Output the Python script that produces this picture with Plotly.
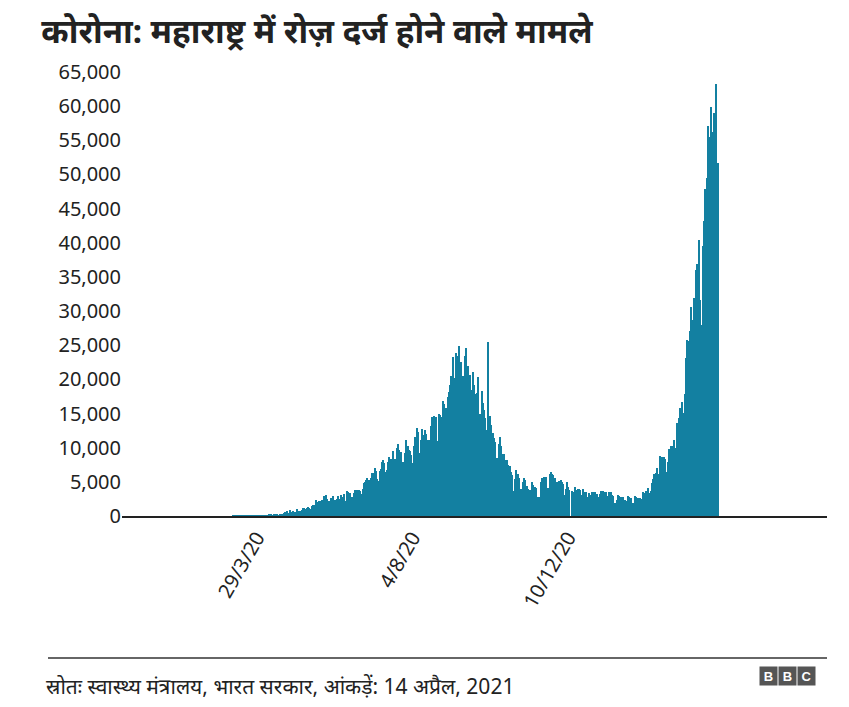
import plotly.graph_objects as go
import pandas as pd

start_date = "2020-03-09"
mar20 = [2,3,5,3,6,3,14,6,3,10,4,6,11,10,15,10,23,20,28,21,15,19,82]
apr20 = [33,81,88,47,145,113,120,150,187,210,92,187,295,121,165,117,286,118,232,466,552,431,778,394,811,440,522,729,597,583]
may20 = [1008,790,678,771,841,1233,1216,1089,1165,1278,1230,1026,1495,1602,1576,1606,2347,2033,2127,2100,2250,2345,2940,2608,3041,2436,2190,2091,2598,2682,2940]
jun20 = [2361,2287,2560,2933,2436,3007,2739,2553,3254,2259,3607,3493,3427,3390,2786,2701,3307,3752,3827,3874,3870,3721,3214,3890,4841,5024,5318,5493,5257,4878]
jul20 = [5537,6330,6364,7074,6555,5368,5134,6603,6875,7862,8139,7827,6497,6741,7975,8641,8308,8348,9518,8240,8336,9895,10576,9615,9251,9431,7924,7717,9211,11147,10320]
aug20 = [9601,9509,8968,7760,10309,11514,10483,12822,12248,9181,11088,12712,11813,12608,12020,11111,8493,11119,13165,14492,14161,14647,14492,11015,10425,14888,14718,14427,16867,16408,11852]
sep20 = [15765,17433,18105,19218,20489,23350,16429,20131,23816,23446,24886,22084,22543,17066,20482,23365,24619,21656,21907,20598,15738,18390,21029,19164,17794,18056,20419,14976,14976,18317]
oct20 = [16476,15591,14348,12548,25500,12258,14578,13395,12134,11416,10792,7089,8522,10552,11514,10226,9060,9060,5984,8151,8142,7539,7347,6417,6059,3645,5363,6738,5902,6190,5548]
nov20 = [4009,3924,4909,5505,5246,4361,3959,3277,3789,4907,4496,4132,4237,4060,2840,2535,2840,5011,5535,5640,5760,5753,4153,4153,6159,6406,6185,5965,5544,4474]
dec20 = [4930,3837,5182,5229,4922,4757,3075,4026,4981,4268,3824,0,3717,3442,2949,4304,3880,3994,3940,3811,3106,3913,3580,3431,3580,2854,3314,2498,3018,3537,3509]
jan21 = [3524,3218,3282,2765,3160,3729,3350,3693,3581,3558,2438,2936,3556,3579,3145,2910,1924,1924,2294,3015,2886,2697,2779,2752,1842,2405,2171,2889,2771,2630,2585]
feb21 = [1948,1927,2992,2736,2628,2673,2620,1924,2515,3451,3297,3670,3611,4092,3365,3663,4787,5427,6112,6281,6971,5210,6218,8807,8702,8333,8623,8293]
mar21 = [6397,7863,9855,8998,10216,10187,11141,8744,9927,13659,14317,15817,15602,16620,15051,17864,23179,25833,25681,27126,30535,24645,28699,31855,35952,36902,35726,40414,31643,27918,39544]
apr21 = [43183,47827,49447,57074,47288,55469,59907,56286,58993,55411,63294,51751]

cases = mar20+apr20+may20+jun20+jul20+aug20+sep20+oct20+nov20+dec20+jan21+feb21+mar21+apr21
dates = pd.date_range(start_date, periods=len(cases), freq="D")

tick_dates = ["2020-03-29", "2020-08-04", "2020-12-10"]
tick_labels = ["29/3/20", "4/8/20", "10/12/20"]
y_ticks = list(range(0, 65001, 5000))

title = "कोरोना: महाराष्ट्र में रोज़ दर्ज होने वाले मामले"
source = "स्रोतः स्वास्थ्य मंत्रालय, भारत सरकार, आंकड़ें: 14 अप्रैल, 2021"
FONT = "Noto Sans, Noto Sans Devanagari, Lohit Devanagari, sans-serif"

fig = go.Figure(go.Bar(x=dates, y=cases, marker_color="#1380A1",
                       marker_line_width=0))
fig.update_layout(
    width=833, height=691, bargap=0, plot_bgcolor="white", paper_bgcolor="white",
    margin=dict(l=114, r=14, t=64, b=183, autoexpand=False), showlegend=False,
    font=dict(family=FONT, color="#222222", size=20),
    title=dict(text="<b>" + title + "</b>", x=0.04, xanchor="left", y=0.966, yanchor="middle",
               font=dict(size=33, color="#222222")),
)
fig.update_xaxes(type="date", range=["2019-12-09", "2021-07-11"], tickvals=tick_dates,
                 ticktext=tick_labels, tickangle=-60, showgrid=False, showline=True,
                 linecolor="#222222", linewidth=2, ticks="", tickfont=dict(size=20))
fig.update_yaxes(range=[0, 65000], tickvals=y_ticks,
                 ticktext=[f"{v:,}" for v in y_ticks], showgrid=False,
                 zeroline=False, ticks="", tickfont=dict(size=20))
fig.add_shape(type="line", xref="paper", yref="paper", x0=-0.105, x1=1.0,
              y0=-0.32, y1=-0.32, line=dict(color="#333333", width=1.5))
fig.add_annotation(text=source, xref="paper", yref="paper", x=-0.11, y=-0.382,
                   xanchor="left", yanchor="middle", showarrow=False,
                   font=dict(size=21, color="#222222"))
for i, letter in enumerate("BBC"):
    fig.add_annotation(text="<b>" + letter + "</b>", xref="paper", yref="paper",
                       x=0.93 + i * 0.0275, y=-0.382, showarrow=False,
                       bgcolor="#555555", width=15, height=16, borderpad=1,
                       font=dict(size=13, color="white", family="Liberation Sans"))
fig.write_html("out.html")
